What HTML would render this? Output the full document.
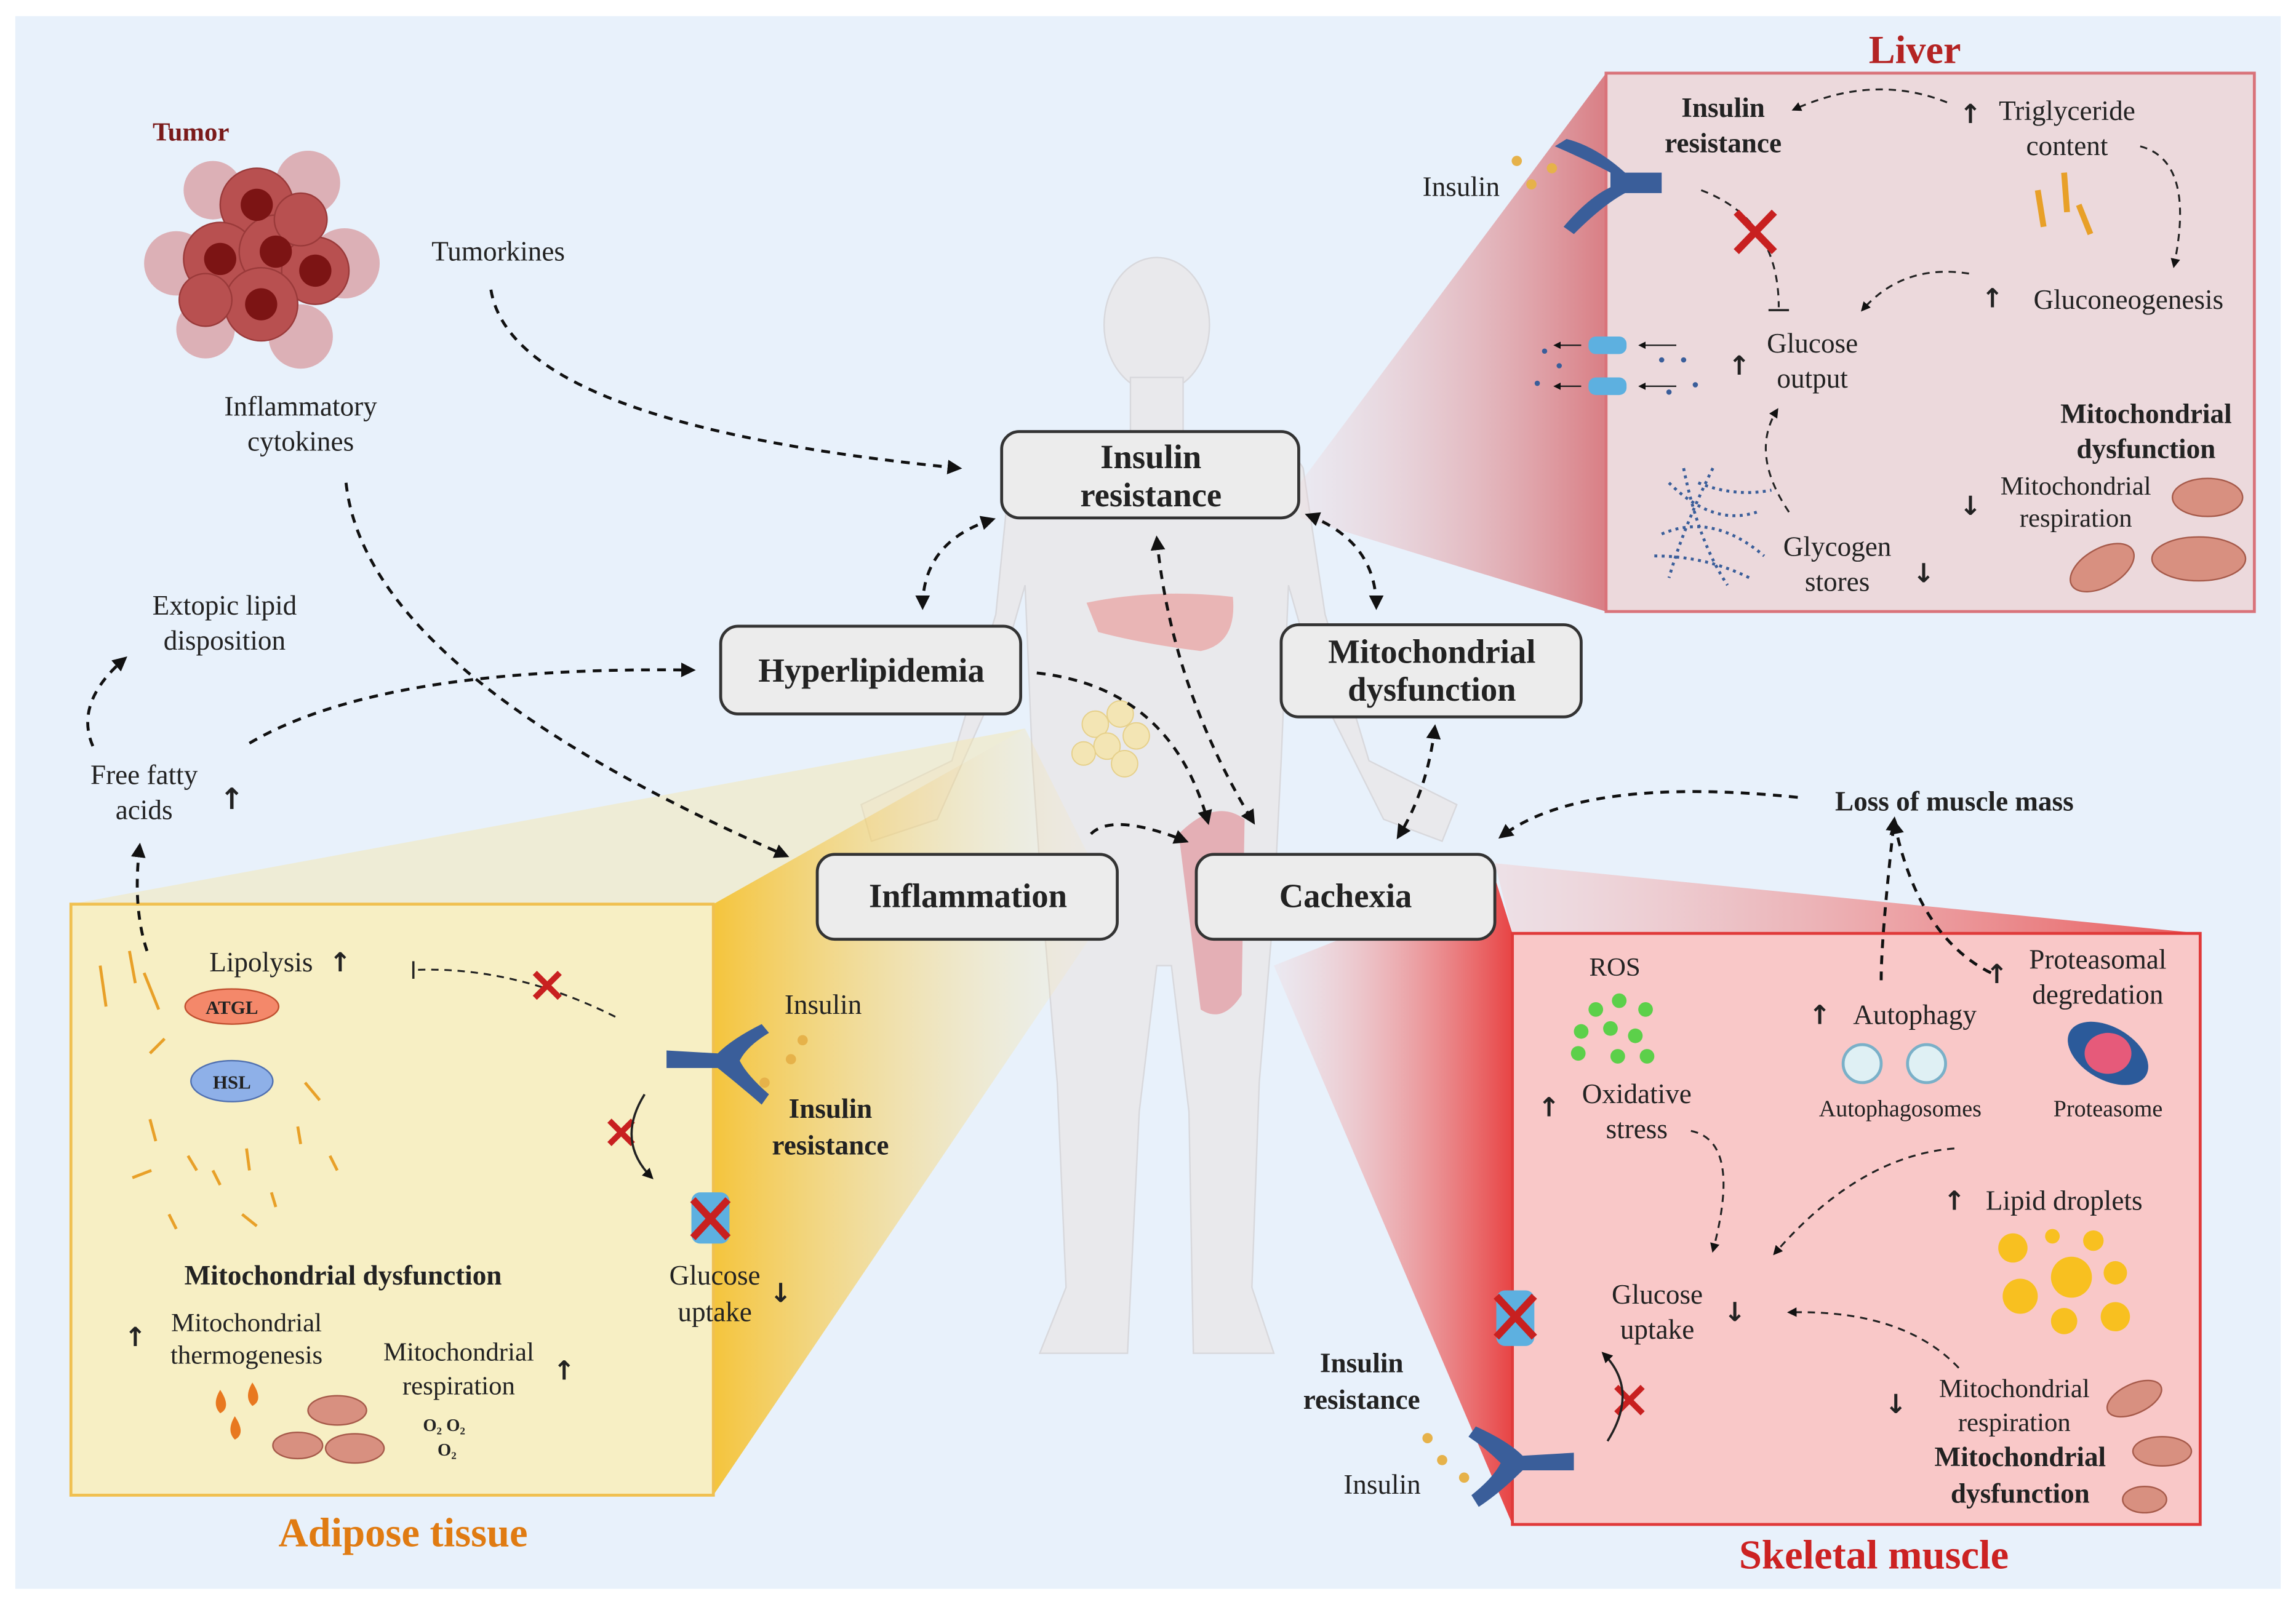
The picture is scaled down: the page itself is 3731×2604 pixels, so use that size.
<!DOCTYPE html>
<html><head><meta charset="utf-8">
<style>
html,body{margin:0;padding:0;background:#fff;}
svg{display:block;}
text{font-family:"Liberation Serif",serif;fill:#222;}
.b{font-weight:bold;}
.u{font-family:"DejaVu Sans",sans-serif;font-weight:bold;}
</style></head>
<body>
<svg width="3731" height="2604" viewBox="0 0 1568 1095" xmlns="http://www.w3.org/2000/svg">
<defs>
<marker id="ar" viewBox="0 0 10 10" refX="8" refY="5" markerWidth="5" markerHeight="5" orient="auto-start-reverse"><path d="M0,0 L10,5 L0,10 z" fill="#111"/></marker>
<linearGradient id="gl" gradientUnits="userSpaceOnUse" x1="888" y1="0" x2="1097" y2="0"><stop offset="0" stop-color="#eed6da" stop-opacity="0.3"/><stop offset="1" stop-color="#d8787e" stop-opacity="0.95"/></linearGradient>
<linearGradient id="ga" gradientUnits="userSpaceOnUse" x1="740" y1="0" x2="487" y2="0"><stop offset="0" stop-color="#f7e6b0" stop-opacity="0.15"/><stop offset="1" stop-color="#f5c232" stop-opacity="0.95"/></linearGradient>
<linearGradient id="gm" gradientUnits="userSpaceOnUse" x1="870" y1="0" x2="1033" y2="0"><stop offset="0" stop-color="#f4c8c8" stop-opacity="0.2"/><stop offset="1" stop-color="#e83a3a" stop-opacity="0.95"/></linearGradient>
<linearGradient id="gm2" gradientUnits="userSpaceOnUse" x1="1021" y1="0" x2="1503" y2="0"><stop offset="0" stop-color="#f4c8c8" stop-opacity="0.4"/><stop offset="1" stop-color="#e84848" stop-opacity="0.9"/></linearGradient>
</defs>
<rect x="10" y="11" width="1548" height="1075" fill="#e8f1fb"/>

<!-- body silhouette -->
<g fill="#e9e9ec" stroke="#d8d8dc" stroke-width="1">
<ellipse cx="790" cy="222" rx="36" ry="46"/>
<rect x="772" y="258" width="36" height="42"/>
<path d="M690,320 Q700,300 770,295 L810,295 Q880,300 890,320 L905,420 L935,520 L995,550 L985,575 L945,560 L900,470 L880,400 L875,520 L870,620 L860,740 L855,880 L870,925 L815,925 L812,760 L800,660 L790,660 L778,760 L770,925 L710,925 L728,880 L722,740 L712,620 L705,520 L700,400 L680,470 L640,560 L595,575 L588,550 L650,520 L680,420 Z"/>
</g>
<path d="M742,412 Q790,402 842,408 Q845,440 820,445 Q780,440 750,432 Z" fill="#e8a8a8" opacity="0.8"/>
<g fill="#f3e5b4" stroke="#e6d08a" stroke-width="0.8"><circle cx="748" cy="495" r="9"/><circle cx="765" cy="488" r="9"/><circle cx="776" cy="503" r="9"/><circle cx="756" cy="510" r="9"/><circle cx="740" cy="515" r="8"/><circle cx="768" cy="522" r="9"/></g>
<path d="M805,570 Q830,545 850,560 L848,680 Q835,700 820,690 Z" fill="#e2a0a8" opacity="0.8"/>

<!-- perspective gradients -->
<polygon points="888,330 1097,50 1097,418 888,354" fill="url(#gl)"/>
<polygon points="48,618 700,498 487,618" fill="#f7e6a8" opacity="0.45"/>
<polygon points="487,618 700,498 760,618 487,1022" fill="url(#ga)"/>
<polygon points="1021,590 1503,638 1033,638" fill="url(#gm2)"/>
<polygon points="1021,600 1033,638 1033,1042 870,660" fill="url(#gm)"/>

<!-- panels -->
<rect x="1097" y="50" width="443" height="368" fill="#ecd9dc" stroke="#d9737a" stroke-width="2"/>
<rect x="48" y="618" width="439" height="404" fill="#f7efc4" stroke="#f0c050" stroke-width="2"/>
<rect x="1033" y="638" width="470" height="404" fill="#f9c8c8" stroke="#e03a3a" stroke-width="2"/>

<text x="1308" y="43" font-size="27" text-anchor="middle" style="fill:#b42323" class="b">Liver</text>
<text x="275" y="1057" font-size="28" text-anchor="middle" style="fill:#e07b12" class="b">Adipose tissue</text>
<text x="1280" y="1072" font-size="28" text-anchor="middle" style="fill:#cc2222" class="b">Skeletal muscle</text>

<!-- tumor -->
<text x="130" y="96" font-size="18" text-anchor="middle" style="fill:#7a1a1a" class="b">Tumor</text>
<g>
<g fill="#dcb0b6"><circle cx="210" cy="125" r="22"/><circle cx="235" cy="180" r="24"/><circle cx="120" cy="180" r="22"/><circle cx="205" cy="230" r="22"/><circle cx="140" cy="225" r="20"/><circle cx="145" cy="130" r="20"/></g>
<g fill="#b85050" stroke="#9a3a3a" stroke-width="1"><circle cx="175" cy="140" r="25"/><circle cx="150" cy="177" r="25"/><circle cx="188" cy="172" r="25"/><circle cx="215" cy="185" r="23"/><circle cx="178" cy="208" r="25"/><circle cx="140" cy="205" r="18"/><circle cx="205" cy="150" r="18"/></g>
<g fill="#7c1414"><circle cx="175" cy="140" r="11"/><circle cx="150" cy="177" r="11"/><circle cx="188" cy="172" r="11"/><circle cx="215" cy="185" r="11"/><circle cx="178" cy="208" r="11"/></g>
</g>
<text x="340" y="178" font-size="19" text-anchor="middle">Tumorkines</text>
<text x="205" y="284" font-size="19" text-anchor="middle">Inflammatory</text>
<text x="205" y="308" font-size="19" text-anchor="middle">cytokines</text>
<text x="153" y="420" font-size="19" text-anchor="middle">Extopic lipid</text>
<text x="153" y="444" font-size="19" text-anchor="middle">disposition</text>
<text x="98" y="536" font-size="19" text-anchor="middle">Free fatty</text>
<text x="98" y="560" font-size="19" text-anchor="middle">acids</text>
<text x="158" y="553" font-size="20" text-anchor="middle" class="u">↑</text>

<!-- center boxes -->
<g fill="#ececec" stroke="#333" stroke-width="2">
<rect x="684" y="295" width="203" height="59" rx="12"/>
<rect x="492" y="428" width="205" height="60" rx="12"/>
<rect x="875" y="427" width="205" height="63" rx="12"/>
<rect x="558" y="584" width="205" height="58" rx="12"/>
<rect x="817" y="584" width="204" height="58" rx="12"/>
</g>
<g font-size="23" text-anchor="middle">
<text x="786" y="320" class="b">Insulin</text><text x="786" y="346" class="b">resistance</text>
<text x="595" y="466" class="b">Hyperlipidemia</text>
<text x="978" y="453" class="b">Mitochondrial</text><text x="978" y="479" class="b">dysfunction</text>
<text x="661" y="620" class="b">Inflammation</text>
<text x="919" y="620" class="b">Cachexia</text>
</g>

<g fill="none" stroke="#111" stroke-width="2" stroke-dasharray="6,5" marker-end="url(#ar)">
<path d="M335,198 Q350,290 655,320"/>
<path d="M236,330 Q250,460 537,585"/>
<path d="M170,508 Q260,455 473,458"/>
<path d="M63,510 Q50,480 85,450"/>
<path d="M100,650 Q90,620 95,578"/>
<path d="M678,355 Q630,370 630,415" marker-start="url(#ar)"/>
<path d="M893,352 Q940,370 940,415" marker-start="url(#ar)"/>
<path d="M790,368 Q800,470 856,562" marker-start="url(#ar)"/>
<path d="M708,460 Q800,470 825,562"/>
<path d="M745,570 Q760,555 810,575"/>
<path d="M980,497 Q975,540 955,572" marker-start="url(#ar)"/>
<path d="M1228,545 Q1080,530 1025,572"/>
<path d="M1285,670 Q1285,640 1294,560"/>
<path d="M1360,665 Q1310,640 1294,562"/>
</g>
<text x="1335" y="554" font-size="19" text-anchor="middle" class="b">Loss of muscle mass</text>

<!-- LIVER -->
<g font-size="19" text-anchor="middle">
<text x="1177" y="80" class="b">Insulin</text><text x="1177" y="104" class="b">resistance</text>
<text x="1412" y="82">Triglyceride</text><text x="1346" y="84" class="u" font-size="18">↑</text><text x="1412" y="106">content</text>
<text x="1454" y="211">Gluconeogenesis</text><text x="1361" y="210" class="u" font-size="18">↑</text>
<text x="1238" y="241">Glucose</text><text x="1238" y="265">output</text>
<text x="1188" y="256" font-size="18" class="u">↑</text>
<text x="1466" y="289" class="b">Mitochondrial</text><text x="1466" y="313" class="b">dysfunction</text>
<text x="1418" y="338" font-size="18">Mitochondrial</text><text x="1418" y="360" font-size="18">respiration</text>
<text x="1346" y="352" font-size="18" class="u">↓</text>
<text x="1255" y="380">Glycogen</text><text x="1255" y="404">stores</text>
<text x="1314" y="398" font-size="18" class="u">↓</text>
<text x="998" y="134">Insulin</text>
</g>
<g fill="none" stroke="#222" stroke-width="1.3" stroke-dasharray="5,4">
<path d="M1330,70 Q1280,50 1225,75" marker-end="url(#ar)"/>
<path d="M1462,100 Q1500,110 1485,182" marker-end="url(#ar)"/>
<path d="M1345,187 Q1300,180 1272,212" marker-end="url(#ar)"/>
<path d="M1222,350 Q1195,310 1214,280" marker-end="url(#ar)"/>
<path d="M1162,130 Q1215,150 1215,210"/>
</g>
<line x1="1208" y1="212" x2="1222" y2="212" stroke="#222" stroke-width="1.5"/>
<g stroke="#c82020" stroke-width="5"><line x1="1186" y1="145" x2="1212" y2="172"/><line x1="1212" y1="145" x2="1186" y2="172"/></g>
<g fill="#3a5e9a"><path d="M1062,100 Q1085,110 1100,118 L1100,128 Q1085,135 1068,155 L1075,160 Q1095,140 1110,132 L1135,132 L1135,118 L1110,118 Q1090,100 1070,95 Z"/></g>
<g fill="#e6b24a"><circle cx="1036" cy="110" r="3.5"/><circle cx="1046" cy="126" r="3.5"/><circle cx="1060" cy="115" r="3.5"/></g>
<g stroke="#e8a028" stroke-width="4"><line x1="1392" y1="130" x2="1396" y2="155"/><line x1="1410" y1="118" x2="1412" y2="145"/><line x1="1420" y1="140" x2="1428" y2="160"/></g>
<g fill="#5db0e0"><rect x="1085" y="230" width="26" height="12" rx="5"/><rect x="1085" y="258" width="26" height="12" rx="5"/></g>
<g stroke="#222" stroke-width="1" marker-end="url(#ar)"><line x1="1080" y1="236" x2="1062" y2="236"/><line x1="1080" y1="264" x2="1062" y2="264"/><line x1="1145" y1="236" x2="1120" y2="236"/><line x1="1145" y1="264" x2="1120" y2="264"/></g>
<g fill="#3a5e9a"><circle cx="1055" cy="240" r="1.8"/><circle cx="1065" cy="250" r="1.8"/><circle cx="1050" cy="262" r="1.8"/><circle cx="1135" cy="246" r="1.8"/><circle cx="1150" cy="246" r="1.8"/><circle cx="1158" cy="263" r="1.8"/><circle cx="1140" cy="268" r="1.8"/></g>
<g stroke="#3a5e9a" stroke-width="2" fill="none" stroke-dasharray="2,3"><path d="M1140,330 Q1170,360 1200,350"/><path d="M1150,320 Q1160,370 1180,400"/><path d="M1135,365 Q1170,350 1205,380"/><path d="M1130,380 Q1165,380 1195,395"/><path d="M1160,330 Q1185,340 1210,335"/><path d="M1170,320 Q1150,360 1140,395"/></g>
<g fill="#d89080" stroke="#a65a4a" stroke-width="1"><ellipse cx="1508" cy="340" rx="24" ry="13"/><ellipse cx="1436" cy="388" rx="24" ry="13" transform="rotate(-30 1436 388)"/><ellipse cx="1502" cy="382" rx="32" ry="15"/></g>

<!-- ADIPOSE -->
<g font-size="19" text-anchor="middle">
<text x="178" y="664">Lipolysis</text><text x="232" y="664" font-size="18" class="u">↑</text>
<text x="562" y="693">Insulin</text>
<text x="567" y="764" class="b">Insulin</text><text x="567" y="789" class="b">resistance</text>
<text x="488" y="878">Glucose</text><text x="488" y="903">uptake</text><text x="533" y="890" font-size="18" class="u">↓</text>
<text x="234" y="878" class="b">Mitochondrial dysfunction</text>
<text x="168" y="910" font-size="18">Mitochondrial</text><text x="168" y="932" font-size="18">thermogenesis</text>
<text x="92" y="920" font-size="18" class="u">↑</text>
<text x="313" y="930" font-size="18">Mitochondrial</text><text x="313" y="953" font-size="18">respiration</text>
<text x="385" y="943" font-size="18" class="u">↑</text>
<text x="303" y="978" font-size="12" class="b">O₂ O₂</text><text x="305" y="995" font-size="12" class="b">O₂</text>
</g>
<ellipse cx="158" cy="688" rx="32" ry="12" fill="#f4886a" stroke="#c05030"/>
<text x="158" y="693" font-size="13" text-anchor="middle" class="b">ATGL</text>
<ellipse cx="158" cy="739" rx="28" ry="14" fill="#8eb0e8" stroke="#5070b0"/>
<text x="158" y="744" font-size="13" text-anchor="middle" class="b">HSL</text>
<g stroke="#e8a028" stroke-width="2"><line x1="68" y1="660" x2="72" y2="688"/><line x1="88" y1="650" x2="92" y2="672"/><line x1="98" y1="665" x2="108" y2="690"/><line x1="102" y1="720" x2="112" y2="710"/><line x1="208" y1="740" x2="218" y2="752"/><line x1="102" y1="765" x2="106" y2="780"/><line x1="128" y1="790" x2="134" y2="800"/><line x1="90" y1="805" x2="103" y2="800"/><line x1="145" y1="800" x2="150" y2="810"/><line x1="168" y1="785" x2="170" y2="800"/><line x1="203" y1="770" x2="205" y2="782"/><line x1="225" y1="790" x2="230" y2="800"/><line x1="115" y1="830" x2="120" y2="840"/><line x1="165" y1="830" x2="175" y2="838"/><line x1="185" y1="815" x2="188" y2="825"/></g>
<path d="M420,695 Q350,660 282,663" fill="none" stroke="#222" stroke-width="1.3" stroke-dasharray="5,4"/>
<line x1="282" y1="657" x2="282" y2="669" stroke="#222" stroke-width="1.5"/>
<g stroke="#c82020" stroke-width="4"><line x1="365" y1="665" x2="382" y2="682"/><line x1="382" y1="665" x2="365" y2="682"/><line x1="416" y1="766" x2="432" y2="782"/><line x1="432" y1="766" x2="416" y2="782"/></g>
<path d="M440,748 Q420,780 445,805" fill="none" stroke="#222" stroke-width="1.5" marker-end="url(#ar)"/>
<g fill="#3a5e9a"><path d="M520,700 Q500,710 490,720 L455,718 L455,730 L490,730 Q505,742 520,755 L525,748 Q510,735 505,725 Q510,715 525,706 Z"/></g>
<g fill="#e6b24a"><circle cx="540" cy="724" r="3.5"/><circle cx="548" cy="711" r="3.5"/><circle cx="522" cy="740" r="3.5"/></g>
<rect x="472" y="815" width="26" height="35" rx="6" fill="#5db0e0"/>
<g stroke="#c82020" stroke-width="5"><line x1="473" y1="820" x2="497" y2="846"/><line x1="497" y1="820" x2="473" y2="846"/></g>
<g fill="#e87820"><path d="M150,950 q-6,10 0,16 q8,-4 0,-16z"/><path d="M172,945 q-6,10 0,16 q8,-4 0,-16z"/><path d="M160,968 q-6,10 0,16 q8,-4 0,-16z"/></g>
<g fill="#d89080" stroke="#a65a4a"><ellipse cx="230" cy="964" rx="20" ry="10"/><ellipse cx="203" cy="988" rx="17" ry="9"/><ellipse cx="242" cy="990" rx="20" ry="10"/></g>

<!-- MUSCLE -->
<g font-size="19" text-anchor="middle">
<text x="1103" y="667" font-size="18">ROS</text>
<text x="1118" y="754">Oxidative</text><text x="1118" y="778">stress</text><text x="1058" y="763" font-size="18" class="u">↑</text>
<text x="1308" y="700">Autophagy</text><text x="1243" y="700" font-size="18" class="u">↑</text>
<text x="1298" y="763" font-size="16">Autophagosomes</text>
<text x="1433" y="662">Proteasomal</text><text x="1433" y="686">degredation</text><text x="1364" y="672" font-size="18" class="u">↑</text>
<text x="1440" y="763" font-size="16">Proteasome</text>
<text x="1410" y="827">Lipid droplets</text><text x="1335" y="827" font-size="18" class="u">↑</text>
<text x="1132" y="891">Glucose</text><text x="1132" y="915">uptake</text><text x="1185" y="903" font-size="18" class="u">↓</text>
<text x="1376" y="955" font-size="18">Mitochondrial</text><text x="1376" y="978" font-size="18">respiration</text><text x="1295" y="966" font-size="18" class="u">↓</text>
<text x="1380" y="1002" class="b">Mitochondrial</text><text x="1380" y="1027" class="b">dysfunction</text>
<text x="930" y="938" class="b">Insulin</text><text x="930" y="963" class="b">resistance</text>
<text x="944" y="1021">Insulin</text>
</g>
<g fill="#5cd04a"><circle cx="1090" cy="690" r="5"/><circle cx="1106" cy="684" r="5"/><circle cx="1124" cy="690" r="5"/><circle cx="1080" cy="705" r="5"/><circle cx="1100" cy="703" r="5"/><circle cx="1117" cy="708" r="5"/><circle cx="1078" cy="720" r="5"/><circle cx="1105" cy="722" r="5"/><circle cx="1125" cy="722" r="5"/></g>
<g fill="#dff0f4" stroke="#7ab0c8" stroke-width="2"><circle cx="1272" cy="727" r="13"/><circle cx="1316" cy="727" r="13"/></g>
<g><ellipse cx="1440" cy="720" rx="30" ry="18" transform="rotate(30 1440 720)" fill="#2b5a9a"/><ellipse cx="1440" cy="720" rx="16" ry="14" fill="#e65a7a"/></g>
<g fill="#f8c020"><circle cx="1375" cy="853" r="10"/><circle cx="1415" cy="873" r="14"/><circle cx="1380" cy="886" r="12"/><circle cx="1410" cy="903" r="9"/><circle cx="1445" cy="900" r="10"/><circle cx="1430" cy="848" r="7"/><circle cx="1445" cy="870" r="8"/><circle cx="1402" cy="845" r="5"/></g>
<g fill="#d89080" stroke="#a65a4a"><ellipse cx="1458" cy="956" rx="20" ry="10" transform="rotate(-25 1458 956)"/><ellipse cx="1477" cy="992" rx="20" ry="10"/><ellipse cx="1465" cy="1025" rx="15" ry="9"/></g>
<g fill="none" stroke="#222" stroke-width="1.3" stroke-dasharray="5,4" marker-end="url(#ar)">
<path d="M1155,773 Q1190,780 1170,855"/>
<path d="M1335,785 Q1270,790 1212,857"/>
<path d="M1338,935 Q1300,895 1222,897"/>
</g>
<rect x="1022" y="882" width="26" height="38" rx="6" fill="#5db0e0"/>
<g stroke="#c82020" stroke-width="5"><line x1="1022" y1="886" x2="1048" y2="914"/><line x1="1048" y1="886" x2="1022" y2="914"/></g>
<g stroke="#c82020" stroke-width="4"><line x1="1104" y1="948" x2="1122" y2="966"/><line x1="1122" y1="948" x2="1104" y2="966"/></g>
<path d="M1098,985 Q1120,950 1095,925" fill="none" stroke="#222" stroke-width="1.5" marker-end="url(#ar)"/>
<g fill="#3a5e9a"><path d="M1008,975 Q1030,985 1040,995 L1075,993 L1075,1005 L1040,1005 Q1025,1020 1010,1030 L1005,1022 Q1020,1010 1025,1000 Q1015,990 1003,982 Z"/></g>
<g fill="#e6b24a"><circle cx="975" cy="983" r="3.5"/><circle cx="985" cy="998" r="3.5"/><circle cx="1000" cy="1010" r="3.5"/></g>
</svg>
</body></html>
